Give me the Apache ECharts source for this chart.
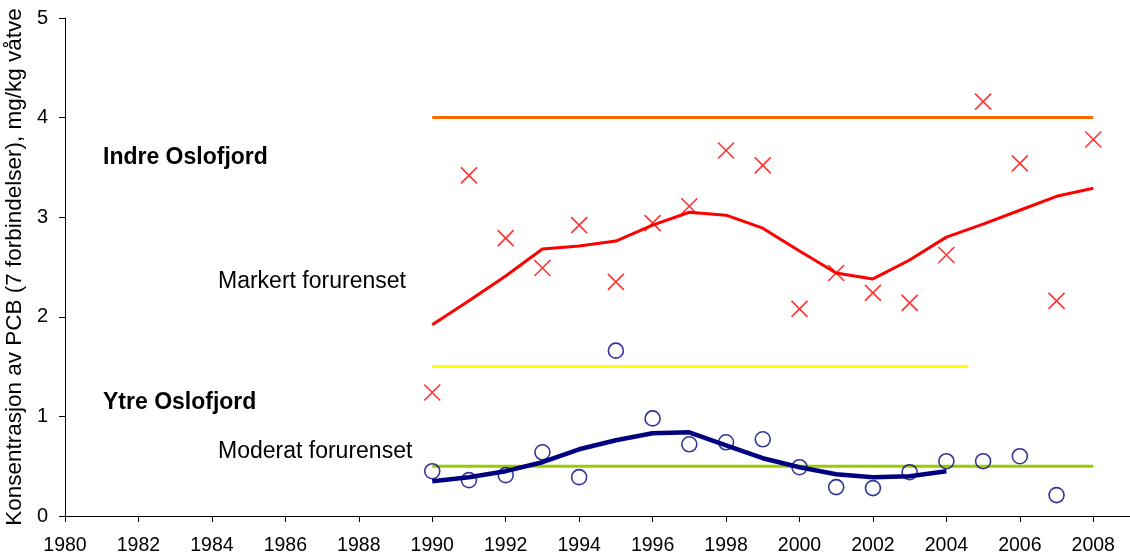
<!DOCTYPE html>
<html lang="no">
<head>
<meta charset="utf-8">
<title>PCB Oslofjord</title>
<script src="https://cdn.jsdelivr.net/npm/echarts@6/dist/echarts.min.js"></script>
<style>
  html, body { margin: 0; padding: 0; background: #fff; }
  #chart { width: 1130px; height: 556px; }
</style>
</head>
<body>
<div id="chart"></div>
<script>
// data
var years = [1990, 1991, 1992, 1993, 1994, 1995, 1996, 1997, 1998, 1999,
             2000, 2001, 2002, 2003, 2004, 2005, 2006, 2007, 2008];
var indreObs = [1.24, 3.42, 2.79, 2.49, 2.92, 2.35, 2.94, 3.11, 3.67, 3.52,
                2.08, 2.44, 2.24, 2.14, 2.62, 4.16, 3.54, 2.16, 3.78];
var indreTrend = [1.92, 2.16, 2.41, 2.68, 2.71, 2.76, 2.92, 3.05, 3.02, 2.89,
                  2.66, 2.44, 2.38, 2.57, 2.80, 2.93, 3.07, 3.21, 3.29];
var ytreObs = [0.45, 0.36, 0.41, 0.64, 0.39, 1.66, 0.98, 0.72, 0.74, 0.77,
               0.49, 0.29, 0.28, 0.44, 0.55, 0.55, 0.60, 0.21];
var ytreTrend = [0.35, 0.39, 0.45, 0.54, 0.67, 0.76, 0.83, 0.84, 0.71, 0.58,
                 0.49, 0.42, 0.39, 0.40, 0.45];
// klassegrenser (limit lines): [start year, end year, value]
var limitOrange = [1990, 2008, 4];
var limitYellow = [1990, 2004.6, 1.5];
var limitGreen = [1990, 2008, 0.5];

var font = 'Arial, "Liberation Sans", sans-serif';

function pairs(xs, ys) {
  var out = [];
  for (var i = 0; i < ys.length; i++) out.push([xs[i], ys[i]]);
  return out;
}
function limitLine(lim, color) {
  return {
    type: 'line',
    data: [[lim[0], lim[2]], [lim[1], lim[2]]],
    symbol: 'none',
    lineStyle: { color: color, width: 3 },
    silent: true,
    z: 1
  };
}

var myChart = echarts.init(document.getElementById('chart'));
var option = {
  backgroundColor: '#fff',
  animation: false,
  grid: { left: 65, right: 0, top: 18, bottom: 40, containLabel: false, outerBoundsMode: 'none' },
  xAxis: {
    type: 'value',
    min: 1980,
    max: 2009,
    interval: 2,
    splitLine: { show: false },
    axisLine: { lineStyle: { color: '#000', width: 1 } },
    axisTick: { length: 6, lineStyle: { color: '#000' } },
    axisLabel: {
      color: '#000', fontSize: 19.5, fontFamily: font, margin: 20,
      showMaxLabel: false,
      formatter: function (v) { return String(v); }
    }
  },
  yAxis: {
    type: 'value',
    min: 0,
    max: 5,
    interval: 1,
    splitLine: { show: false },
    axisLine: { show: true, lineStyle: { color: '#000', width: 1 } },
    axisTick: { show: true, length: 6, lineStyle: { color: '#000' } },
    axisLabel: { color: '#000', fontSize: 20, fontFamily: font, margin: 17 },
    name: 'Konsentrasjon av PCB (7 forbindelser), mg/kg våtve',
    nameLocation: 'middle',
    nameGap: 35,
    nameTextStyle: { color: '#000', fontSize: 22.5, fontFamily: font }
  },
  graphic: [
    { type: 'text', left: 103, top: 146,
      style: { text: 'Indre Oslofjord', font: 'bold 23px ' + font, fill: '#000' } },
    { type: 'text', left: 218, top: 270,
      style: { text: 'Markert forurenset', font: '23px ' + font, fill: '#000' } },
    { type: 'text', left: 103, top: 391,
      style: { text: 'Ytre Oslofjord', font: 'bold 23px ' + font, fill: '#000' } },
    { type: 'text', left: 218, top: 440,
      style: { text: 'Moderat forurenset', font: '23px ' + font, fill: '#000' } }
  ],
  series: [
    limitLine(limitOrange, '#FF6600'),
    limitLine(limitYellow, '#FFFF00'),
    limitLine(limitGreen, '#99CC00'),
    {
      name: 'Indre trend',
      type: 'line',
      data: pairs(years, indreTrend),
      symbol: 'none',
      lineStyle: { color: '#FF0000', width: 3 },
      z: 2
    },
    {
      name: 'Ytre trend',
      type: 'line',
      data: pairs(years, ytreTrend),
      symbol: 'none',
      lineStyle: { color: '#000080', width: 4.5 },
      z: 2
    },
    {
      name: 'Indre Oslofjord',
      type: 'scatter',
      data: pairs(years, indreObs),
      symbol: 'path://M0,0L10,10M10,0L0,10',
      symbolSize: 16,
      itemStyle: { color: 'rgba(0,0,0,0)', borderColor: '#FF0000', borderWidth: 1.6 },
      z: 3
    },
    {
      name: 'Ytre Oslofjord',
      type: 'scatter',
      data: pairs(years, ytreObs),
      symbol: 'circle',
      symbolSize: 15,
      itemStyle: { color: 'rgba(0,0,0,0)', borderColor: '#000080', borderWidth: 1.6 },
      z: 3
    }
  ]
};
myChart.setOption(option);
</script>
</body>
</html>
